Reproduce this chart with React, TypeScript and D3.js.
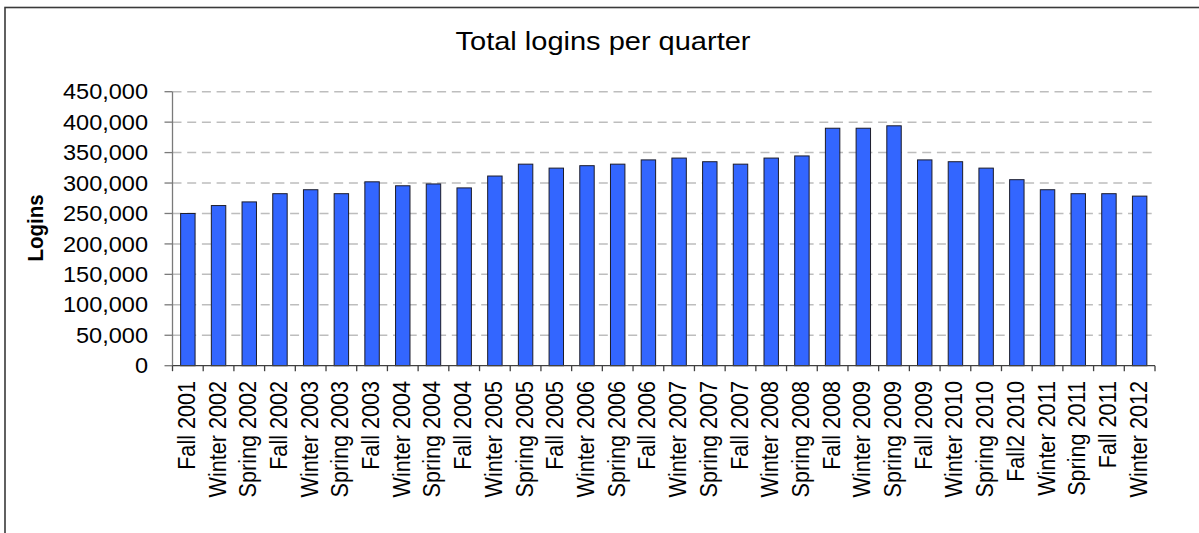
import * as d3 from "d3";

const quarters = [
  "Fall 2001", "Winter 2002", "Spring 2002", "Fall 2002", "Winter 2003", "Spring 2003",
  "Fall 2003", "Winter 2004", "Spring 2004", "Fall 2004", "Winter 2005", "Spring 2005",
  "Fall 2005", "Winter 2006", "Spring 2006", "Fall 2006", "Winter 2007", "Spring 2007",
  "Fall 2007", "Winter 2008", "Spring 2008", "Fall 2008", "Winter 2009", "Spring 2009",
  "Fall 2009", "Winter 2010", "Spring 2010", "Fall2 2010", "Winter 2011", "Spring 2011",
  "Fall 2011", "Winter 2012",
];

const logins = [
  250000, 263000, 269000, 282500, 289000, 282500,
  302000, 295500, 298500, 292000, 311500, 331000,
  324500, 328500, 331000, 338000, 341000, 335000,
  331000, 341000, 344500, 390000, 390000, 394000,
  338000, 335000, 324500, 305500, 289000, 282500,
  282500, 278500,
];

const yTicks = [0, 50000, 100000, 150000, 200000, 250000, 300000, 350000, 400000, 450000];

const W = 1199;
const H = 533;
const plot = { left: 172.5, right: 1155, top: 91.7, bottom: 365.7 };
const font = "'Liberation Sans', Arial, sans-serif";
const stretch = 1.08;

export default function App() {
  const x = d3
    .scaleBand<string>()
    .domain(quarters)
    .range([plot.left, plot.right])
    .paddingInner(0.53)
    .paddingOuter(0.265);
  const y = d3.scaleLinear().domain([0, 450000]).range([plot.bottom, plot.top]);
  const fmt = d3.format(",");
  const step = x.step();
  const bounds = d3.range(quarters.length + 1).map((i) => plot.left + i * step);

  return (
    <svg
      width={W}
      height={H}
      style={{ position: "absolute", left: 0, top: 0, background: "#fff" }}
      fontFamily={font}
    >
      <rect x={0} y={0} width={W} height={H} fill="#fff" />
      <rect x={5} y={7.5} width={W + 10} height={H + 10} fill="none" stroke="#3a3a3a" strokeWidth={1.6} />

      <text
        x={603}
        y={50}
        textAnchor="middle"
        fontSize={25}
        textLength={295}
        lengthAdjust="spacingAndGlyphs"
        fill="#000"
      >
        Total logins per quarter
      </text>

      {/* gridlines */}
      {yTicks.filter((t) => t > 0).map((t) => (
        <line
          key={t}
          x1={plot.left}
          x2={plot.right}
          y1={y(t)}
          y2={y(t)}
          stroke="#bdbdbd"
          strokeWidth={1.5}
          strokeDasharray="9 5.7"
        />
      ))}

      {/* bars */}
      {quarters.map((q, i) => (
        <rect
          key={q}
          x={x(q)!}
          y={y(logins[i])}
          width={x.bandwidth()}
          height={plot.bottom - y(logins[i])}
          fill="#3366ff"
          stroke="#1c1c2a"
          strokeWidth={1}
        />
      ))}

      {/* y axis */}
      <line x1={plot.left} x2={plot.left} y1={plot.top} y2={plot.bottom} stroke="#7a7a7a" strokeWidth={1.3} />
      {yTicks.map((t) => (
        <g key={t}>
          <line x1={plot.left - 8} x2={plot.left} y1={y(t)} y2={y(t)} stroke="#7a7a7a" strokeWidth={1.3} />
          <text
            transform={`translate(148,${y(t)}) scale(${stretch},1)`}
            dy="0.35em"
            textAnchor="end"
            fontSize={21.8}
            fill="#000"
          >
            {fmt(t)}
          </text>
        </g>
      ))}

      {/* x axis */}
      <line x1={plot.left} x2={plot.right} y1={plot.bottom} y2={plot.bottom} stroke="#404040" strokeWidth={1.3} />
      {bounds.map((b, i) => (
        <line key={i} x1={b} x2={b} y1={plot.bottom} y2={plot.bottom + 5.5} stroke="#404040" strokeWidth={1.3} />
      ))}
      {quarters.map((q) => (
        <text
          key={q}
          transform={`translate(${x(q)! + x.bandwidth() / 2},381) scale(${stretch},1) rotate(-90)`}
          dy="0.3em"
          textAnchor="end"
          fontSize={21.6}
          fill="#000"
        >
          {q}
        </text>
      ))}

      <text
        transform={`translate(43,228) scale(${stretch},1) rotate(-90)`}
        textAnchor="middle"
        fontSize={20.5}
        fontWeight="bold"
        fill="#000"
      >
        Logins
      </text>
    </svg>
  );
}
